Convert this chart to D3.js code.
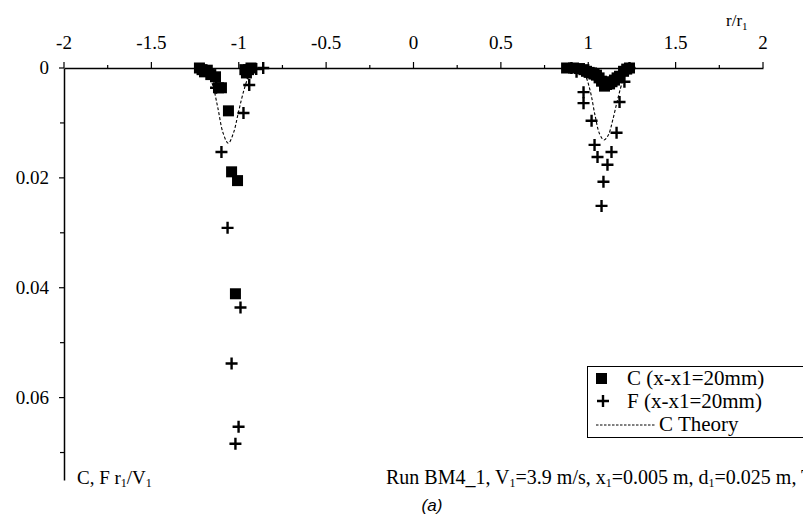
<!DOCTYPE html>
<html><head><meta charset="utf-8">
<script src="https://cdn.jsdelivr.net/npm/d3@7"></script>
<style>body{margin:0;background:#fff}svg{display:block}text{font-family:"Liberation Serif","Times New Roman",serif;fill:#000}</style>
</head><body><svg id="c" width="803" height="529"></svg>
<script>
// Data (r/r1, C r1/V1)
const cX = [-1.225,-1.21,-1.196,-1.18,-1.16,-1.133,-1.116,-1.099,-1.059,-1.041,-1.007,-1.019,-0.965,-0.956,-0.944,-0.93,
            0.876,0.916,0.95,0.975,0.99,1.005,1.019,1.033,1.047,1.062,1.076,1.093,1.105,1.122,1.136,1.150,1.165,1.179,1.202,1.22,1.236];
const cY = [0,0.0003,0.0007,0.0004,0.0012,0.0016,0.0036,0.0036,0.0078,0.0189,0.0205,0.0411,0.0003,0.0009,0.0003,0,
            0,0,0.0001,0.0003,0.0006,0.0008,0.0009,0.0011,0.0013,0.0018,0.0024,0.0033,0.0030,0.0029,0.0025,0.0022,0.0018,0.0015,0.0006,0.0002,0];
const fX = [-1.2,-1.15,-1.13,-1.099,-1.064,-1.041,-0.99,-1.001,-1.019,-0.973,-0.94,-0.9,-0.86,-0.95,
            0.904,0.933,0.973,0.973,1.019,1.036,1.053,1.087,1.076,1.110,1.133,1.162,1.179,1.207,1.236];
const fY = [0.0003,0.0012,0.0036,0.0153,0.0291,0.0538,0.0436,0.0653,0.0684,0.0082,0.0031,0.0002,0,0.0008,
            0,0.0007,0.0044,0.0064,0.0096,0.014,0.0162,0.0207,0.0251,0.0176,0.0153,0.0118,0.0062,0.0025,0];
const thLX = [-1.22,-1.18,-1.15,-1.12,-1.09,-1.06,-1.03,-1.00,-0.97,-0.94,-0.90,-0.86];
const thLY = [0,0.0008,0.003,0.0072,0.0118,0.0137,0.0118,0.0078,0.004,0.0014,0.0002,0];
const thRX = [0.90,0.95,0.98,1.01,1.04,1.065,1.09,1.115,1.14,1.17,1.20,1.23,1.27];
const thRY = [0,0.0003,0.0012,0.004,0.0088,0.012,0.0131,0.0122,0.0095,0.0055,0.0022,0.0006,0];
const xTicks = [-2,-1.75,-1.5,-1.25,-1,-0.75,-0.5,-0.25,0,0.25,0.5,0.75,1,1.25,1.5,1.75,2];
const xLabels = {"-2":"-2","-1.5":"-1.5","-1":"-1","-0.5":"-0.5","0":"0","0.5":"0.5","1":"1","1.5":"1.5","2":"2"};
const yTicks = [0,0.01,0.02,0.03,0.04,0.05,0.06,0.07];
const yLabels = {"0":"0","0.02":"0.02","0.04":"0.04","0.06":"0.06"};

const svg = d3.select("#c");
const x = d3.scaleLinear().domain([-2,2]).range([64,763]);
const y = d3.scaleLinear().domain([0,0.075]).range([68,480]);

// x axis
const xa = svg.append("g").attr("transform",`translate(0,${y(0)})`)
  .call(d3.axisTop(x).tickValues(xTicks).tickSize(0).tickFormat(""));
xa.select(".domain").attr("stroke","#000").attr("stroke-width",1.5);
xTicks.forEach(t=>{
  const major = Math.abs(t*2-Math.round(t*2))<1e-9;
  svg.append("line").attr("x1",x(t)).attr("x2",x(t)).attr("y1",y(0)).attr("y2",y(0)-(major?6:3))
    .attr("stroke","#000").attr("stroke-width",1.2);
  const lab = xLabels[String(t)];
  if(major && lab!==undefined) svg.append("text").attr("x",x(t)).attr("y",49).attr("text-anchor","middle")
    .attr("font-size",19).text(lab);
});
const rl = svg.append("text").attr("x",726).attr("y",26).attr("font-size",17);
rl.append("tspan").text("r/r");
rl.append("tspan").attr("font-size",11).attr("dy",4).text("1");

// y axis
const ya = svg.append("g").attr("transform",`translate(${x(-2)},0)`)
  .call(d3.axisLeft(y).tickValues(yTicks).tickSize(0).tickFormat(""));
ya.select(".domain").attr("stroke","#000").attr("stroke-width",1.5);
yTicks.forEach(t=>{
  const lab = yLabels[String(t)];
  svg.append("line").attr("x1",x(-2)).attr("x2",x(-2)-(lab!==undefined?5:4)).attr("y1",y(t)).attr("y2",y(t))
    .attr("stroke","#000").attr("stroke-width",1.2);
  if(lab!==undefined) svg.append("text").attr("x",49).attr("y",y(t)+6).attr("text-anchor","end")
    .attr("font-size",19).text(lab);
});

// theory curves
const line = d3.line().x(d=>x(d[0])).y(d=>y(d[1])).curve(d3.curveCatmullRom);
[[thLX,thLY],[thRX,thRY]].forEach(([xs,ys])=>{
  svg.append("path").attr("d",line(xs.map((v,i)=>[v,ys[i]])))
    .attr("fill","none").attr("stroke","#000").attr("stroke-width",1.1).attr("stroke-dasharray","3,2");
});

// C squares
svg.append("g").selectAll("rect").data(cX.map((v,i)=>[v,cY[i]])).join("rect")
  .attr("x",d=>x(d[0])-5.5).attr("y",d=>y(d[1])-5.5).attr("width",11).attr("height",11).attr("fill","#000");

// F plus
const plus = (g,cx,cy,s)=>g.append("path").attr("d",`M${cx-s},${cy}H${cx+s}M${cx},${cy-s}V${cy+s}`)
  .attr("stroke","#000").attr("stroke-width",2.4).attr("fill","none");
const fg = svg.append("g");
fX.forEach((v,i)=>plus(fg,x(v),y(fY[i]),6));

// legend
svg.append("rect").attr("x",587.5).attr("y",366.5).attr("width",230).attr("height",71)
  .attr("fill","#fff").attr("stroke","#000").attr("stroke-width",1);
svg.append("rect").attr("x",596).attr("y",373).attr("width",11).attr("height",11).attr("fill","#000");
svg.append("text").attr("x",627).attr("y",385).attr("font-size",21).text("C (x-x1=20mm)");
plus(svg,603,401,6);
svg.append("text").attr("x",627).attr("y",408).attr("font-size",21).text("F (x-x1=20mm)");
svg.append("line").attr("x1",596).attr("x2",655).attr("y1",425).attr("y2",425)
  .attr("stroke","#000").attr("stroke-width",1).attr("stroke-dasharray","2.5,1.5");
svg.append("text").attr("x",659).attr("y",431).attr("font-size",21).text("C Theory");

// bottom labels
const yl = svg.append("text").attr("x",77).attr("y",484).attr("font-size",19);
yl.append("tspan").text("C, F r");
yl.append("tspan").attr("font-size",12).attr("dy",3).text("1");
yl.append("tspan").attr("dy",-3).text("/V");
yl.append("tspan").attr("font-size",12).attr("dy",3).text("1");

const rt = svg.append("text").attr("x",386).attr("y",484).attr("font-size",20);
rt.append("tspan").text("Run BM4_1, V");
rt.append("tspan").attr("font-size",12).attr("dy",3).text("1");
rt.append("tspan").attr("dy",-3).text("=3.9 m/s, x");
rt.append("tspan").attr("font-size",12).attr("dy",3).text("1");
rt.append("tspan").attr("dy",-3).text("=0.005 m, d");
rt.append("tspan").attr("font-size",12).attr("dy",3).text("1");
rt.append("tspan").attr("dy",-3).text("=0.025 m, T");

svg.append("text").attr("x",432).attr("y",511).attr("text-anchor","middle").attr("font-size",17)
  .attr("font-style","italic").style("font-family","'Liberation Sans',Arial,sans-serif").text("(a)");
</script></body></html>
